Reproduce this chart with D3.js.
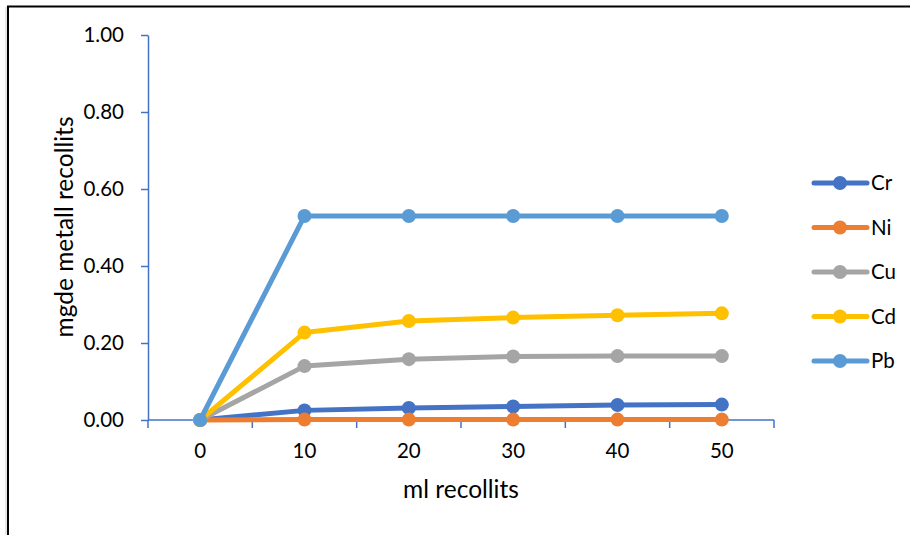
<!DOCTYPE html>
<html>
<head>
<meta charset="utf-8">
<script src="https://cdn.jsdelivr.net/npm/d3@7/dist/d3.min.js"></script>
<style>
  html, body { margin: 0; padding: 0; background: #fff; }
  svg { display: block; }
  text { font-family: Lato, "Liberation Sans", sans-serif; fill: #000; }
</style>
</head>
<body>
<svg id="chart" width="910" height="535"></svg>
<script>
// Volume collected (ml) on the x axis
const volumes = ["0", "10", "20", "30", "40", "50"];

// mg of metal recovered per series
const seriesNames = ["Cr", "Ni", "Cu", "Cd", "Pb"];
const crValues = [0, 0.025, 0.031, 0.035, 0.039, 0.040];
const niValues = [0, 0.001, 0.001, 0.001, 0.001, 0.001];
const cuValues = [0, 0.140, 0.158, 0.165, 0.166, 0.166];
const cdValues = [0, 0.227, 0.257, 0.266, 0.272, 0.277];
const pbValues = [0, 0.530, 0.530, 0.530, 0.530, 0.530];

const yTicks = [0, 0.2, 0.4, 0.6, 0.8, 1.0];
const seriesColors = ["#4472C4", "#ED7D31", "#A5A5A5", "#FFC000", "#5B9BD5"];

const series = seriesNames.map((name, i) => ({
  name,
  color: seriesColors[i],
  values: [crValues, niValues, cuValues, cdValues, pbValues][i]
}));

const svg = d3.select("#chart");
const axisColor = "#4472C4";
const tickFont = "20.5px";
const titleFont = "24.5px";

// Outer frame (top and left edges)
svg.append("line").attr("x1", 6).attr("y1", 7).attr("x2", 6).attr("y2", 535)
  .attr("stroke", "#d0d0d0").attr("stroke-width", 1);
svg.append("path").attr("d", "M8,535 V6.5 H910")
  .attr("fill", "none").attr("stroke", "#000").attr("stroke-width", 2);

const x = d3.scaleBand().domain(volumes).range([148, 774]).paddingInner(0).paddingOuter(0);
const xc = d => x(d) + x.bandwidth() / 2;
const y = d3.scaleLinear().domain([0, 1]).range([420, 35]);

// Y axis
const yAxis = svg.append("g").attr("transform", "translate(148,0)")
  .call(d3.axisLeft(y).tickValues(yTicks).tickFormat(d3.format(".2f"))
    .tickSize(7).tickPadding(17).tickSizeOuter(0));
yAxis.select(".domain").attr("stroke", axisColor).attr("stroke-width", 1.5);
yAxis.selectAll(".tick line").attr("stroke", axisColor).attr("stroke-width", 1.5);
yAxis.selectAll(".tick text").style("font-size", tickFont).attr("fill", "#000");

// X axis: ticks on category boundaries, labels centered in each category
const edgeScale = d3.scaleLinear().domain([0, volumes.length]).range(x.range());
const xAxis = svg.append("g").attr("transform", "translate(0,420)");
xAxis.append("line").attr("x1", edgeScale(0)).attr("x2", edgeScale(volumes.length))
  .attr("stroke", axisColor).attr("stroke-width", 1.5);
xAxis.selectAll("line.tk").data(d3.range(volumes.length + 1)).join("line")
  .attr("class", "tk")
  .attr("x1", d => edgeScale(d)).attr("x2", d => edgeScale(d))
  .attr("y1", 0).attr("y2", 8)
  .attr("stroke", axisColor).attr("stroke-width", 1.5);
xAxis.selectAll("text").data(volumes).join("text")
  .attr("x", d => xc(d)).attr("y", 31)
  .attr("dy", "0.35em").attr("text-anchor", "middle")
  .style("font-size", tickFont).text(d => d);

// Axis titles
svg.append("text").attr("x", 461).attr("y", 498)
  .attr("text-anchor", "middle").style("font-size", titleFont).text("ml recollits");
svg.append("text").attr("transform", "translate(73,227) rotate(-90)")
  .attr("text-anchor", "middle")
  .style("font-size", titleFont).text("mgde metall recollits");

// Series lines and markers
const line = d3.line().x((d, i) => xc(volumes[i])).y(d => y(d));
const plot = svg.append("g");
series.forEach(s => {
  const g = plot.append("g");
  g.append("path").datum(s.values).attr("d", line)
    .attr("fill", "none").attr("stroke", s.color).attr("stroke-width", 5)
    .attr("stroke-linejoin", "round").attr("stroke-linecap", "round");
  g.selectAll("circle").data(s.values).join("circle")
    .attr("cx", (d, i) => xc(volumes[i])).attr("cy", d => y(d))
    .attr("r", 7).attr("fill", s.color);
});

// Legend
const legend = svg.append("g");
const legendY = d3.scalePoint().domain(seriesNames).range([183, 361]);
series.forEach(s => {
  const g = legend.append("g").attr("transform", `translate(0,${legendY(s.name)})`);
  g.append("line").attr("x1", 814).attr("x2", 867).attr("y1", 0).attr("y2", 0)
    .attr("stroke", s.color).attr("stroke-width", 5).attr("stroke-linecap", "round");
  g.append("circle").attr("cx", 840).attr("cy", 0).attr("r", 7).attr("fill", s.color);
  g.append("text").attr("x", 871).attr("y", 0).attr("dy", "0.35em")
    .style("font-size", tickFont).text(s.name);
});
</script>
</body>
</html>
